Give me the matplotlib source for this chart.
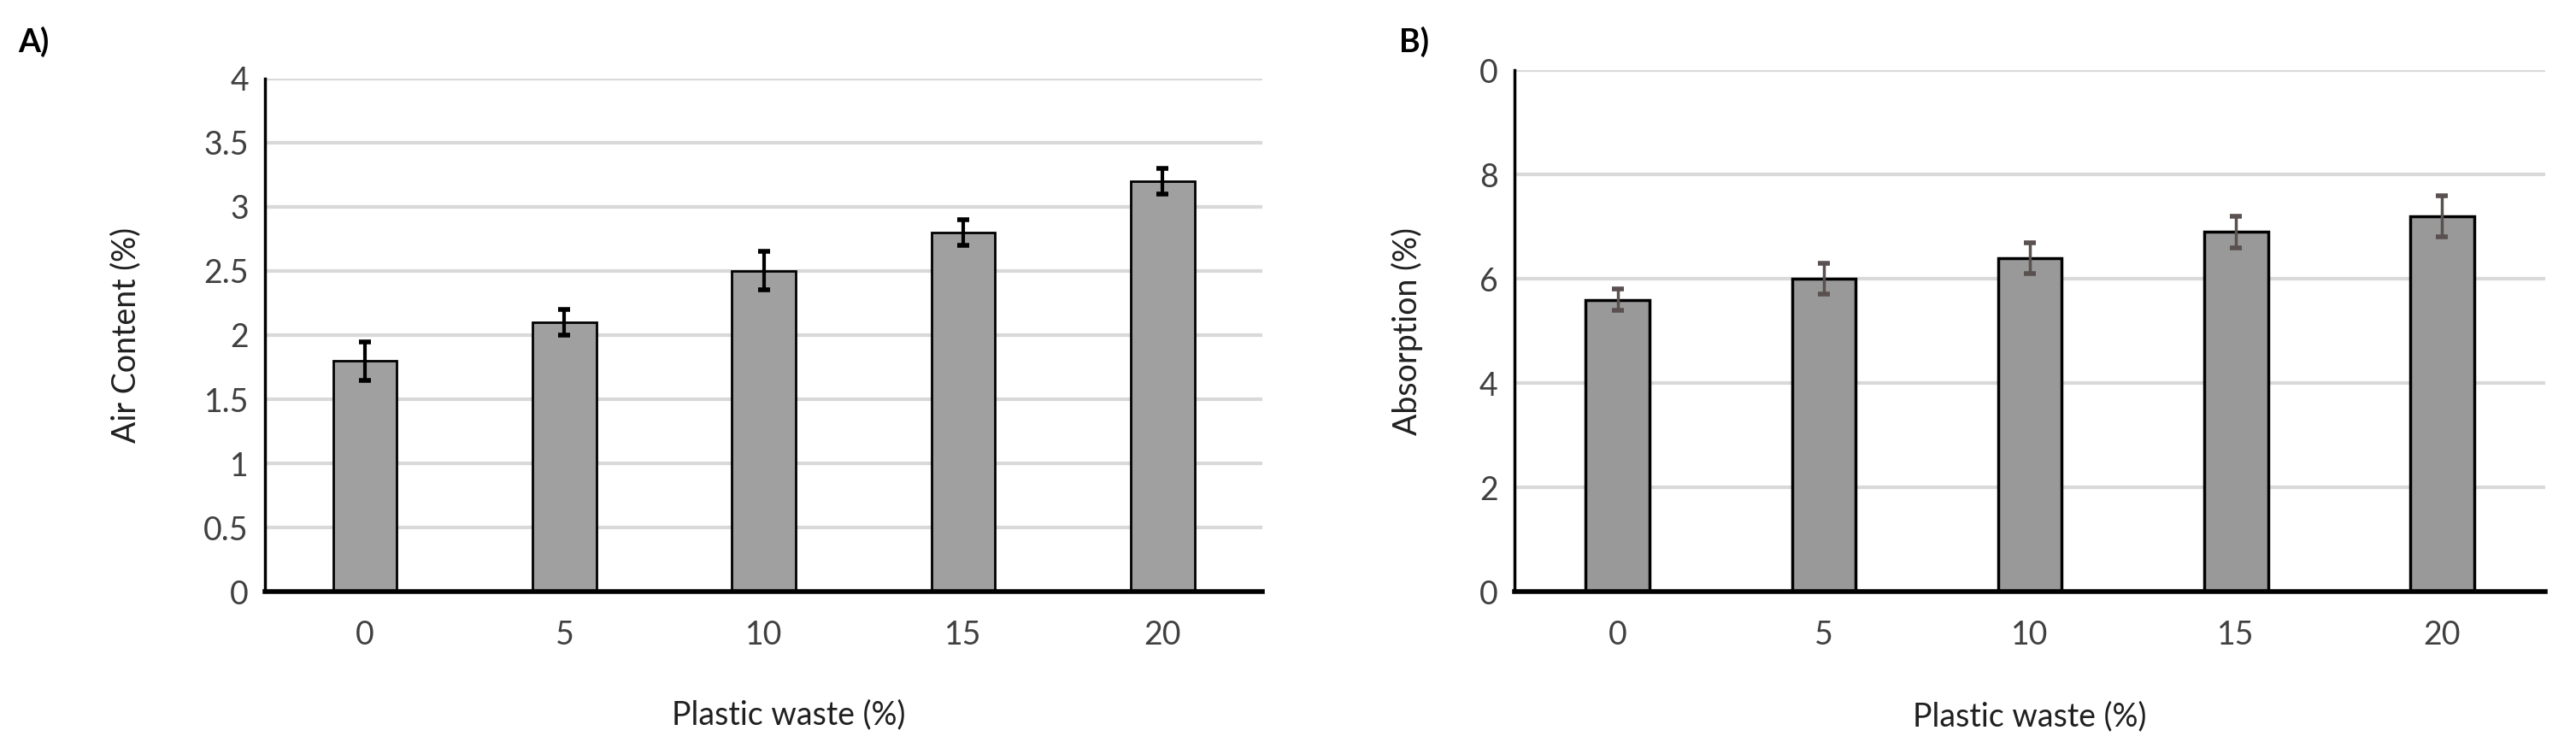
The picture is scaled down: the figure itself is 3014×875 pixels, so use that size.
import numpy as np
import matplotlib
matplotlib.use('Agg')
from matplotlib import pyplot as plt

plt.rcParams['font.family'] = ['Lato', 'DejaVu Sans']

categories = ['0', '5', '10', '15', '20']
air_content = [1.8, 2.1, 2.5, 2.8, 3.2]
air_err = [0.15, 0.1, 0.15, 0.1, 0.1]
absorption = [5.6, 6.0, 6.4, 6.9, 7.2]
absorption_err = [0.2, 0.3, 0.3, 0.3, 0.4]
yticks_a = [0, 0.5, 1, 1.5, 2, 2.5, 3, 3.5, 4]
ytick_labels_a = ['0', '0.5', '1', '1.5', '2', '2.5', '3', '3.5', '4']
yticks_b = [0, 2, 4, 6, 8, 10]
ytick_labels_b = ['0', '2', '4', '6', '8', '0']

fig = plt.figure(figsize=(30.14, 8.75), dpi=100)
ax1 = fig.add_axes([0.103, 0.209, 0.387, 0.686])
ax2 = fig.add_axes([0.588, 0.209, 0.400, 0.697])

x = np.arange(len(categories))
fs = 27


def style(ax, yticks, ylabels, ylim, ylabel, xlab_x, ylab_x):
    ax.set_xlim(-0.5, 4.5)
    ax.set_ylim(*ylim)
    ax.set_yticks(yticks)
    ax.set_yticklabels(ylabels)
    ax.set_xticks(x)
    ax.set_xticklabels(categories)
    ax.tick_params(length=0, labelsize=fs, colors='#404040', pad=14)
    ax.tick_params(axis='x', pad=24)
    ax.yaxis.grid(True, color='#d9d9d9', linewidth=3)
    ax.set_axisbelow(True)
    for s in ['top', 'right']:
        ax.spines[s].set_visible(False)
    ax.spines['left'].set_linewidth(2.5)
    ax.spines['bottom'].set_linewidth(4)
    ax.set_xlabel('Plastic waste (%)', fontsize=fs, color='#202020', va='center')
    ax.set_ylabel(ylabel, fontsize=fs, color='#202020', va='center')
    ax.xaxis.set_label_coords(xlab_x, -0.24)
    ax.yaxis.set_label_coords(ylab_x, 0.5)


# A) air content
ax1.bar(x, air_content, width=0.32, color='#a0a0a0', edgecolor='black', linewidth=2,
        yerr=air_err, error_kw=dict(ecolor='black', elinewidth=3, capsize=5, capthick=4))
style(ax1, yticks_a, ytick_labels_a, (0, 4), 'Air Content (%)', 0.525, -0.14)

# B) absorption
ax2.bar(x, absorption, width=0.31, color='#999999', edgecolor='black', linewidth=2.5,
        yerr=absorption_err, error_kw=dict(ecolor='#5a5050', elinewidth=2.5, capsize=5, capthick=4))
style(ax2, yticks_b, ytick_labels_b, (0, 10), 'Absorption (%)', 0.5, -0.104)

fig.text(0.007, 0.93, 'A)', fontsize=fs, fontweight='bold')
fig.text(0.543, 0.93, 'B)', fontsize=fs, fontweight='bold')

fig.savefig('out.png', dpi=100, facecolor='white')
